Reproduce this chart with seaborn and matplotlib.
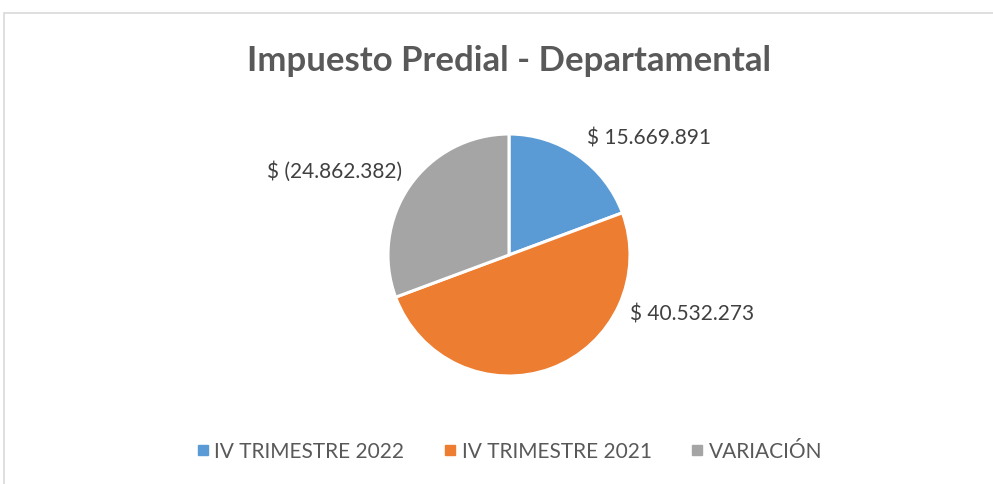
import numpy as np
import matplotlib.pyplot as plt
from matplotlib.lines import Line2D
from matplotlib.patches import Rectangle
import seaborn as sns

sns.set_theme(style="white")
plt.rcParams["font.family"] = ["Lato", "DejaVu Sans"]

# data
categories = ["IV TRIMESTRE 2022", "IV TRIMESTRE 2021", "VARIACIÓN"]
values = [15669891, 40532273, -24862382]
labels = ["$ 15.669.891", "$ 40.532.273", "$ (24.862.382)"]
colors = ["#5B9BD5", "#ED7D31", "#A5A5A5"]

W, H = 993, 485
fig = plt.figure(figsize=(W / 100, H / 100), dpi=100)

# chart area border (excel style)
fig.patches.append(Rectangle((4 / W, -0.1), 1.2, 1 - 14 / H + 0.1, transform=fig.transFigure,
                             fill=False, edgecolor="#D9D9D9", linewidth=1.2))

r = 121
cx, cy = 509, 256
ax = fig.add_axes([(cx - r) / W, (H - cy - r) / H, 2 * r / W, 2 * r / H])
wedges, _ = ax.pie(np.abs(values), colors=colors, startangle=90, counterclock=False,
                   wedgeprops=dict(edgecolor="white", linewidth=2.2))
ax.set_xlim(-1, 1)
ax.set_ylim(-1, 1)
ax.set_aspect("equal")
ax.axis("off")

# label placement (relative to pie radius)
label_pos = [(0.645, 0.975, "left"), (1.0, -0.48, "left"), (-0.88, 0.70, "right")]
for lab, (x, y, ha) in zip(labels, label_pos):
    ax.text(x, y, lab, ha=ha, va="center", fontsize=15, color="#404040", clip_on=False)

fig.text(cx / W, 1 - 61 / H, "Impuesto Predial - Departamental", ha="center", va="center",
         fontsize=25, fontweight="bold", color="#595959")

handles = [Line2D([], [], marker="s", linestyle="", markersize=7, markerfacecolor=c,
                  markeredgecolor=c) for c in colors]
fig.legend(handles, categories, loc="center", bbox_to_anchor=(cx / W, 1 - 452 / H), ncol=3,
           frameon=False, fontsize=15, labelcolor="#595959", handletextpad=0.2,
           columnspacing=1.85, handlelength=0.7)

fig.savefig("out.png", dpi=100)
